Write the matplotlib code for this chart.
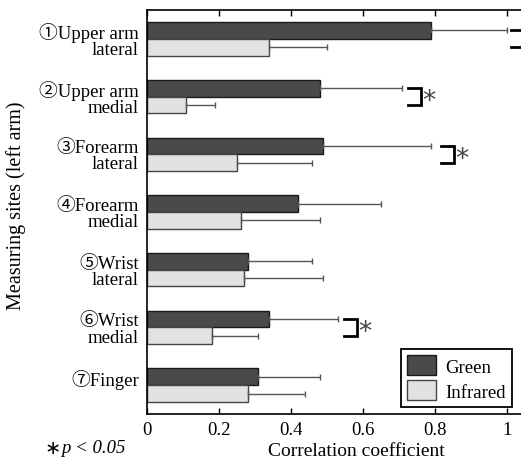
import matplotlib
matplotlib.use("Agg")
import matplotlib.pyplot as plt
import numpy as np

# Data
sites = ["①Upper arm", "②Upper arm", "③Forearm", "④Forearm", "⑤Wrist", "⑥Wrist", "⑦Finger"]
sub_labels = ["lateral", "medial", "lateral", "medial", "lateral", "medial", ""]
green = [0.79, 0.48, 0.49, 0.42, 0.28, 0.34, 0.31]
green_err = [0.21, 0.23, 0.30, 0.23, 0.18, 0.19, 0.17]
infrared = [0.34, 0.108, 0.25, 0.26, 0.27, 0.18, 0.28]
infrared_err = [0.16, 0.082, 0.21, 0.22, 0.22, 0.13, 0.16]
# significance brackets: (group index, left x of bracket, show star)
sig_groups = [0, 1, 2, 5]
sig_x = [1.013, 0.726, 0.817, 0.548]
sig_star = [False, True, True, True]

plt.rcParams['font.family'] = ['Liberation Serif', 'Noto Sans CJK JP', 'DejaVu Sans']
plt.rcParams['font.size'] = 13.5

fig = plt.figure(figsize=(5.21, 4.64), dpi=100)
ax = fig.add_axes([147 / 521, 1 - 415 / 464, 374 / 521, 404 / 464])

y = np.arange(len(sites))
h = 0.29
err_kw = dict(ecolor="#555555", elinewidth=1.0, capsize=2.5, capthick=1.0)
ax.barh(y - h / 2, green, height=h, color="#4a4a4a", edgecolor="#1a1a1a",
        linewidth=1.0, xerr=[np.zeros(len(green)), green_err], error_kw=err_kw, label="Green")
ax.barh(y + h / 2, infrared, height=h, color="#e2e2e2", edgecolor="#444444",
        linewidth=1.0, xerr=[np.zeros(len(infrared)), infrared_err], error_kw=err_kw, label="Infrared")

# significance brackets
bw = 0.036
for g, x0, star in zip(sig_groups, sig_x, sig_star):
    y0, y1 = g - h / 2, g + h / 2
    ax.plot([x0, x0 + bw, x0 + bw, x0], [y0, y0, y1, y1], color="black", lw=2.0,
            solid_joinstyle="miter")
    if star:
        ax.text(x0 + bw + 0.003, g + 0.08, "*", fontsize=19, va="center", ha="left",
                family="DejaVu Sans", color="#444444")

ax.set_xlim(0, 1.04)
ax.set_ylim(len(sites) - 0.5, -0.5)

# two-line labels: first line beside green bar, second beside infrared bar
ticks, labels = [], []
for i, (s, sub) in enumerate(zip(sites, sub_labels)):
    if sub:
        ticks.append(i)
        labels.append(s + "\n" + sub)
    else:
        ticks.append(i - h / 2)
        labels.append(s)
ax.set_yticks(ticks)
ax.set_yticklabels(labels, linespacing=0.93, multialignment="right")
ax.tick_params(axis="y", length=0, pad=6)
ax.set_xticks([0, 0.2, 0.4, 0.6, 0.8, 1.0])
ax.set_xticklabels(["0", "0.2", "0.4", "0.6", "0.8", "1"])
ax.tick_params(axis="x", direction="in", top=True, length=4, width=1, pad=5)

ax.spines["right"].set_visible(False)
for s in ["left", "bottom", "top"]:
    ax.spines[s].set_linewidth(1.2)

fig.text(16 / 521, 1 - 206 / 464, "Measuring sites (left arm)", rotation=90,
         ha="center", va="center", fontsize=14.5)
fig.text(356 / 521, 1 - 452 / 464, "Correlation coefficient", ha="center", va="center", fontsize=14)
fig.text(45 / 521, 1 - 449 / 464, "∗", ha="left", va="center", fontsize=14, family="DejaVu Sans")
fig.text(61 / 521, 1 - 449 / 464, "p < 0.05", ha="left", va="center", fontsize=13.5, style="italic")

leg = ax.legend(loc="lower right", bbox_to_anchor=(0.976, 0.017), borderaxespad=0,
                fancybox=False, edgecolor="black", framealpha=1, fontsize=13.5,
                handlelength=1.5, handleheight=1.25, borderpad=0.35, labelspacing=0.25,
                handletextpad=0.5)
leg.get_frame().set_linewidth(1.3)

fig.savefig("out.png", dpi=100)
